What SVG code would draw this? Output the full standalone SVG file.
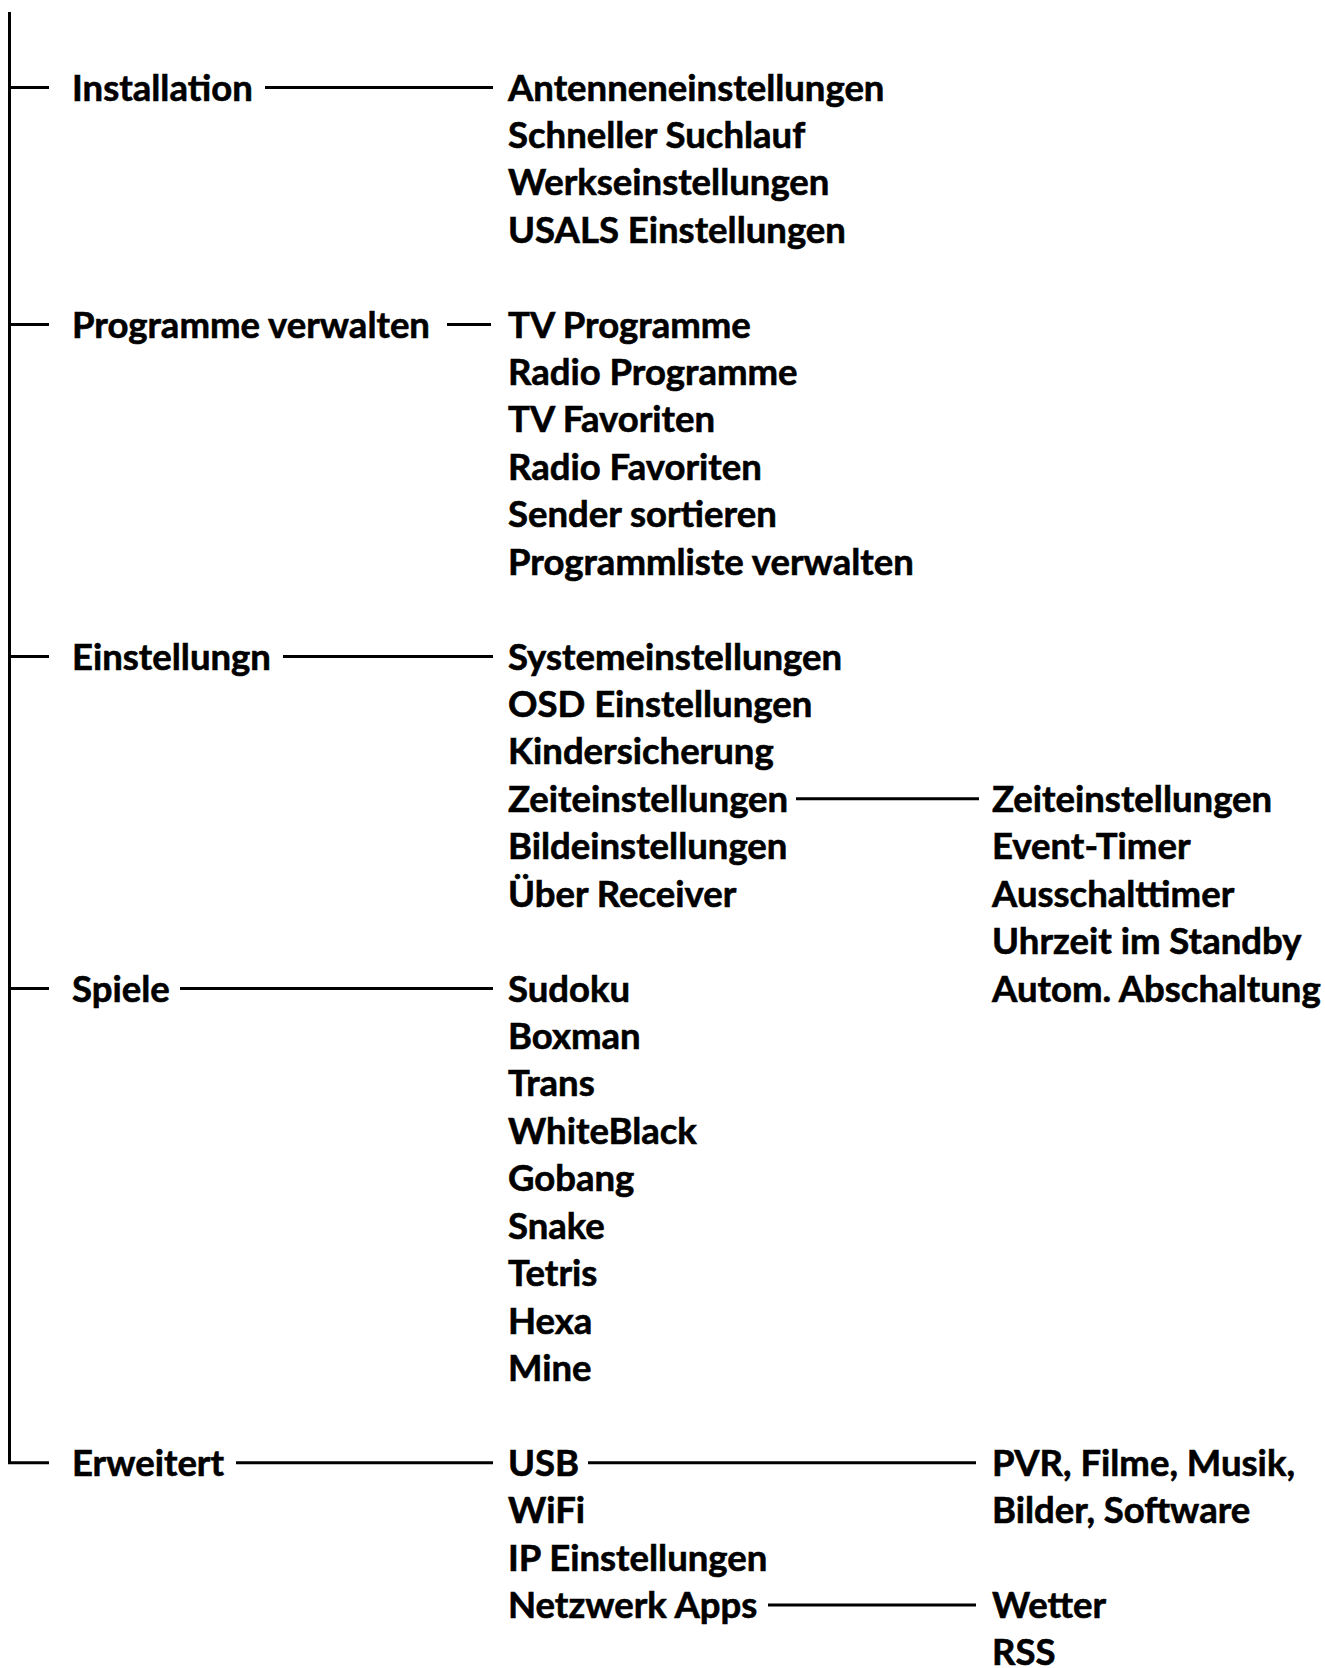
<svg xmlns="http://www.w3.org/2000/svg" width="1325" height="1668" viewBox="0 0 1325 1668">
<style>
text{font-family:Lato,"Liberation Sans",sans-serif;font-weight:700;font-size:36.5px;fill:#000;stroke:#000;stroke-width:0.6}
.c{stroke:#000;stroke-width:3;fill:none}
</style>
<rect width="1325" height="1668" fill="#fff"/>
<g id="connectors">
<path class="c" d="M9.5 12V1462.7H49"/>
<path class="c" d="M9.5 87.5H49M9.5 324.6H49M9.5 656.5H49M9.5 988.5H49"/>
<path class="c" d="M265 87.5H493"/>
<path class="c" d="M447 324.6H491"/>
<path class="c" d="M283 656.5H493"/>
<path class="c" d="M180 988.5H493"/>
<path class="c" d="M236 1462.7H493"/>
<path class="c" d="M796 798.8H979"/>
<path class="c" d="M588 1462.7H976"/>
<path class="c" d="M768 1605H976"/>
</g>
<g id="n-installation"><text x="72" y="100.5">Installation</text></g>
<g id="n-programme"><text x="72" y="337.6">Programme verwalten</text></g>
<g id="n-einstellungn"><text x="72" y="669.5">Einstellungn</text></g>
<g id="n-spiele"><text x="72" y="1001.5">Spiele</text></g>
<g id="n-erweitert"><text x="72" y="1475.7">Erweitert</text></g>
<g id="n-installation-sub">
<text x="508" y="100.5">Antenneneinstellungen</text>
<text x="508" y="147.9">Schneller Suchlauf</text>
<text x="508" y="195.3">Werkseinstellungen</text>
<text x="508" y="242.8">USALS Einstellungen</text>
</g>
<g id="n-programme-sub">
<text x="508" y="337.6">TV Programme</text>
<text x="508" y="385">Radio Programme</text>
<text x="508" y="432.4">TV Favoriten</text>
<text x="508" y="479.9">Radio Favoriten</text>
<text x="508" y="527.3">Sender sortieren</text>
<text x="508" y="574.7">Programmliste verwalten</text>
</g>
<g id="n-einstellungn-sub">
<text x="508" y="669.5">Systemeinstellungen</text>
<text x="508" y="716.9">OSD Einstellungen</text>
<text x="508" y="764.4">Kindersicherung</text>
<text x="508" y="811.8">Zeiteinstellungen</text>
<text x="508" y="859.2">Bildeinstellungen</text>
<text x="508" y="906.6">Über Receiver</text>
</g>
<g id="n-zeit-sub">
<text x="992" y="811.8">Zeiteinstellungen</text>
<text x="992" y="859.2">Event-Timer</text>
<text x="992" y="906.6">Ausschalttimer</text>
<text x="992" y="954.1">Uhrzeit im Standby</text>
<text x="992" y="1001.5">Autom. Abschaltung</text>
</g>
<g id="n-spiele-sub">
<text x="508" y="1001.5">Sudoku</text>
<text x="508" y="1048.9">Boxman</text>
<text x="508" y="1096.4">Trans</text>
<text x="508" y="1143.8">WhiteBlack</text>
<text x="508" y="1191.2">Gobang</text>
<text x="508" y="1238.6">Snake</text>
<text x="508" y="1286.1">Tetris</text>
<text x="508" y="1333.5">Hexa</text>
<text x="508" y="1380.9">Mine</text>
</g>
<g id="n-erweitert-sub">
<text x="508" y="1475.7">USB</text>
<text x="508" y="1523.1">WiFi</text>
<text x="508" y="1570.6">IP Einstellungen</text>
<text x="508" y="1618">Netzwerk Apps</text>
</g>
<g id="n-usb-sub">
<text x="992" y="1475.7">PVR, Filme, Musik,</text>
<text x="992" y="1523.1">Bilder, Software</text>
</g>
<g id="n-netz-sub">
<text x="992" y="1618">Wetter</text>
<text x="992" y="1665">RSS</text>
</g>
</svg>
